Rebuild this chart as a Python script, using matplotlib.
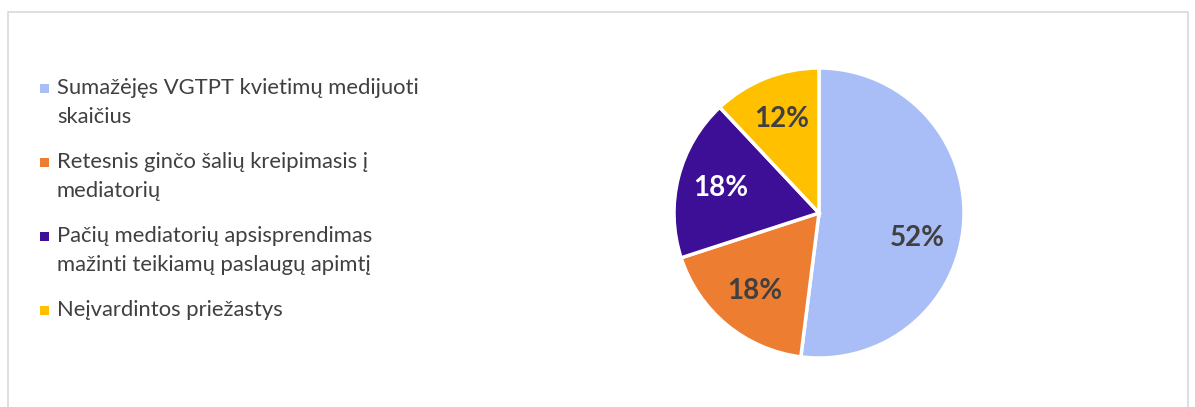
import matplotlib.pyplot as plt
from matplotlib.patches import Rectangle

# Duomenys
labels = ['Sumažėjęs VGTPT kvietimų medijuoti\nskaičius',
          'Retesnis ginčo šalių kreipimasis į\nmediatorių',
          'Pačių mediatorių apsisprendimas\nmažinti teikiamų paslaugų apimtį',
          'Neįvardintos priežastys']
values = [52, 18, 18, 12]
colors = ['#A9BEF6', '#ED7D31', '#3D0E96', '#FFC000']
label_colors = ['#404040', '#404040', 'white', '#404040']

W, H = 1195, 407
fig = plt.figure(figsize=(W / 100, H / 100), dpi=100)

# remelis
fig.patches.append(Rectangle((8 / W, -0.1), 1180 / W, 1.1 - 12 / H, transform=fig.transFigure,
                             fill=False, edgecolor='#D9D9D9', linewidth=1.2))

# pyrago diagrama
cx, cy, r = 819, 213, 145
ax = fig.add_axes([(cx - r) / W, (H - cy - r) / H, 2 * r / W, 2 * r / H])
wedges, texts, autotexts = ax.pie(values, colors=colors, startangle=90, counterclock=False,
                                  autopct='%1.0f%%', pctdistance=0.7,
                                  wedgeprops=dict(edgecolor='white', linewidth=2.5),
                                  textprops=dict(fontsize=20, fontweight='bold', family='Lato'))
for t, c in zip(autotexts, label_colors):
    t.set_color(c)
# didziausios dalies etikete kiek zemiau (kaip Excel)
autotexts[0].set_position((0.68, -0.17))
ax.set_xlim(-1, 1)
ax.set_ylim(-1, 1)
ax.set_aspect('equal')

# legenda
y = 88
for lab, col in zip(labels, colors):
    fig.patches.append(Rectangle((39.5 / W, 1 - (y + 4.5) / H), 9 / W, 9 / H,
                                 transform=fig.transFigure, facecolor=col, edgecolor='none'))
    lines = lab.split('\n')
    for i, line in enumerate(lines):
        fig.text(57 / W, 1 - (y + i * 29) / H, line, fontsize=15.8, family='Lato',
                 color='#404040', va='center')
    y += len(lines) * 29 + 16

fig.savefig('out.png', dpi=100)
